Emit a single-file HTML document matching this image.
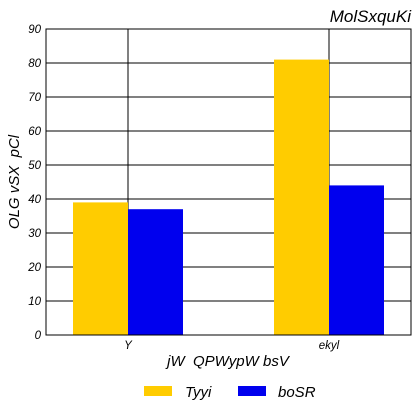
<!DOCTYPE html>
<html><head><meta charset="utf-8"><style>
body{margin:0;background:#fff;}
svg{display:block;font-family:"Liberation Sans",Arial,sans-serif;font-style:italic;}
text{white-space:pre;}
</style></head><body>
<svg id="c" width="420" height="420">
<rect x="0" y="0" width="420" height="420" fill="#fff"/>
<text x="411" y="22" text-anchor="end" font-size="17">MolSxquKi</text>
<g id="grid"></g>
<g id="bars"></g>
<rect x="46" y="29" width="365" height="306" fill="none" stroke="#000" stroke-width="1"/>
<g id="ticks" font-size="11.5"></g>
<text transform="translate(19,182) rotate(-90)" text-anchor="middle" font-size="15" xml:space="preserve">OLG vSX  pCl</text>
<text x="228" y="366" text-anchor="middle" font-size="15" xml:space="preserve">jW  QPWypW bsV</text>
<g>
<rect x="144" y="386" width="28" height="10" fill="#FFCC00"/>
<text x="185" y="397" font-size="15">Tyyi</text>
<rect x="238" y="386" width="28" height="10" fill="#0000EE"/>
<text x="278" y="397" font-size="15">boSR</text>
</g>
</svg>
<script>
const categories=["Y","ekyl"];
const seriesTyyi=[39,81];
const seriesBoSR=[37,44];
const yTicks=[0,10,20,30,40,50,60,70,80,90];
const NS="http://www.w3.org/2000/svg";
const L=46,R=411,T=29,B=335,yMax=90;
const y=v=>B-(v/yMax)*(B-T);
function mk(tag,attrs,parent){const e=document.createElementNS(NS,tag);for(const k in attrs)e.setAttribute(k,attrs[k]);parent.appendChild(e);return e;}
const grid=document.getElementById('grid'),bars=document.getElementById('bars'),ticks=document.getElementById('ticks');
yTicks.forEach(t=>{
 const ln=mk('line',{x1:L,x2:R,y1:y(t),y2:y(t),stroke:'#000','stroke-width':1},grid);
 
 
 const tx=mk('text',{x:L-5,y:y(t)+4,'text-anchor':'end'},ticks);
 tx.textContent=t;
 
 
});
const n=categories.length;
categories.forEach((c,i)=>{
 const cx=L+(R-L)*((82+201*i)/365);
 const ln=mk('line',{x1:cx,x2:cx,y1:T,y2:B,stroke:'#000','stroke-width':1},grid);
 
 
 const bw=55;
 const b1=mk('rect',{x:cx-bw,y:y(seriesTyyi[i]),width:bw,height:B-y(seriesTyyi[i]),fill:'#FFCC00'},bars);
 
 
 const b2=mk('rect',{x:cx,y:y(seriesBoSR[i]),width:bw,height:B-y(seriesBoSR[i]),fill:'#0000EE'},bars);
 
 
 const tx=mk('text',{x:cx,y:349,'text-anchor':'middle'},ticks);
 tx.textContent=c;
 
 
});
</script>
</body></html>
